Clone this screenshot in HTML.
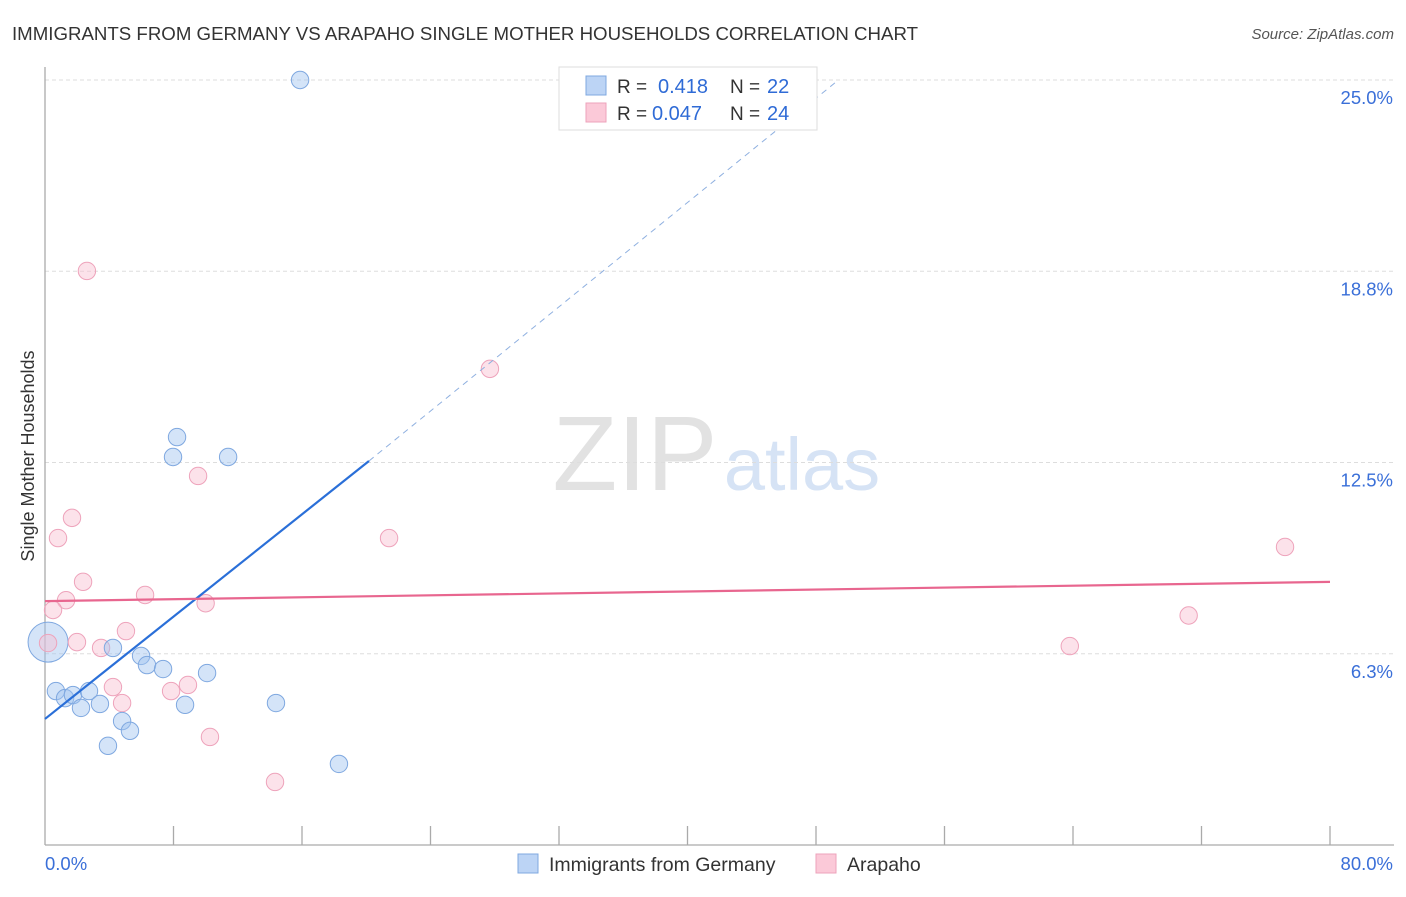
<!DOCTYPE html>
<html><head><meta charset="utf-8"><style>
body{margin:0;background:#fff;font-family:"Liberation Sans",sans-serif;}
svg text{font-family:"Liberation Sans",sans-serif;}
</style></head><body>
<svg id="chart" width="1406" height="892" viewBox="0 0 1406 892" xmlns="http://www.w3.org/2000/svg">
<text x="12" y="40" font-size="18.6" fill="#333" textLength="906" lengthAdjust="spacingAndGlyphs">IMMIGRANTS FROM GERMANY VS ARAPAHO SINGLE MOTHER HOUSEHOLDS CORRELATION CHART</text>
<text x="1394" y="39" font-size="15" fill="#555" text-anchor="end" font-style="italic">Source: ZipAtlas.com</text>
<g>
<text x="635" y="490" font-size="106" fill="#e2e2e2" text-anchor="middle" font-family="Liberation Serif, serif">ZIP</text>
<text x="802" y="490" font-size="74" fill="#d6e3f5" text-anchor="middle">atlas</text>
</g>
<g id="grid"></g>
<g id="axes"></g>
<g id="marks"></g>
<text transform="translate(34,456) rotate(-90)" font-size="18" fill="#333" text-anchor="middle">Single Mother Households</text>
<g>
<rect x="559" y="67" width="258" height="63" fill="#fff" stroke="#ddd"/>
<rect x="586" y="76" width="20" height="19" fill="#bcd4f5" stroke="#7fa8e0"/>
<rect x="586" y="103" width="20" height="19" fill="#fbc9d8" stroke="#eea3bb"/>
<text x="617" y="93" font-size="19" fill="#333">R =</text>
<text x="658" y="93" font-size="20" fill="#2f6bd6">0.418</text>
<text x="730" y="93" font-size="19" fill="#333">N =</text>
<text x="767" y="93" font-size="20" fill="#2f6bd6">22</text>
<text x="617" y="120" font-size="19" fill="#333">R =</text>
<text x="652" y="120" font-size="20" fill="#2f6bd6">0.047</text>
<text x="730" y="120" font-size="19" fill="#333">N =</text>
<text x="767" y="120" font-size="20" fill="#2f6bd6">24</text>
</g>
<g>
<rect x="518" y="854" width="20" height="19" fill="#bcd4f5" stroke="#7fa8e0"/>
<text x="549" y="871" font-size="19.5" fill="#333">Immigrants from Germany</text>
<rect x="816" y="854" width="20" height="19" fill="#fbc9d8" stroke="#eea3bb"/>
<text x="847" y="871" font-size="19.5" fill="#333">Arapaho</text>
</g>
</svg>
<script>
const yTicks=[25.0,18.8,12.5,6.3];
const yTickVals=[25,18.75,12.5,6.25];
const xTickLabels=["0.0%","80.0%"];
const blueX=[15.88,8.22,7.97,11.4,4.23,5.98,6.35,7.35,10.09,0.68,1.25,1.74,2.74,2.24,3.42,4.8,5.29,3.92,8.72,14.38,18.3];
const blueY=[25.0,13.33,12.68,12.68,6.44,6.18,5.88,5.75,5.62,5.03,4.8,4.9,5.03,4.48,4.61,4.05,3.73,3.24,4.58,4.64,2.65];
const blueBig=[0.19,6.63];
const pinkX=[2.61,27.7,9.53,1.68,0.81,21.42,77.2,2.37,6.23,1.31,0.5,10.0,71.2,5.04,1.99,3.49,0.19,63.8,4.23,8.9,7.85,4.8,10.27,14.32];
const pinkY=[18.76,15.56,12.06,10.69,10.03,10.03,9.74,8.6,8.17,8.0,7.68,7.9,7.5,6.99,6.63,6.44,6.6,6.5,5.16,5.23,5.03,4.64,3.53,2.06];
const blueTrend=[0,4.12,20.17,12.55,49.4,25.0];
const pinkTrend=[0,7.97,80,8.6];
const NS="http://www.w3.org/2000/svg";
const X=v=>45+v*(1285/80);
const Y=v=>80+(25-v)*(765/25);
function mk(t,a,p){const e=document.createElementNS(NS,t);for(const k in a)e.setAttribute(k,a[k]);p.appendChild(e);return e;}
const grid=document.getElementById('grid'),axes=document.getElementById('axes'),marks=document.getElementById('marks');
yTickVals.forEach((v,i)=>{
 const l=mk('line',{x1:45,x2:1394,y1:Y(v),y2:Y(v),stroke:'#ddd','stroke-dasharray':'4,3'},grid);
 
 
 const t=mk('text',{x:1393,y:Y(v)+24,'font-size':18.5,fill:'#3a6fd8','text-anchor':'end'},grid);
 t.textContent=yTicks[i].toFixed(1)+'%';
 
 
});
mk('line',{x1:45,x2:45,y1:67,y2:845,stroke:'#aaa','stroke-width':1.3},axes);
mk('line',{x1:45,x2:1394,y1:845,y2:845,stroke:'#aaa','stroke-width':1.3},axes);
for(let i=1;i<=10;i++){const l=mk('line',{x1:X(i*8),x2:X(i*8),y1:826,y2:845,stroke:'#aaa','stroke-width':1.3},axes);
 
 }
let t0=mk('text',{x:45,y:870,'font-size':18.5,fill:'#3a6fd8'},axes);t0.textContent=xTickLabels[0];


let t1=mk('text',{x:1393,y:870,'font-size':18.5,fill:'#3a6fd8','text-anchor':'end'},axes);t1.textContent=xTickLabels[1];


let bb=mk('circle',{cx:X(blueBig[0]),cy:Y(blueBig[1]),r:20,fill:'rgba(160,195,240,0.45)',stroke:'#7fa8e0','stroke-width':1},marks);


pinkX.forEach((x,i)=>{const c=mk('circle',{cx:X(x),cy:Y(pinkY[i]),r:8.7,fill:'rgba(249,190,208,0.45)',stroke:'#eea3bb','stroke-width':1},marks);
 
 });
blueX.forEach((x,i)=>{const c=mk('circle',{cx:X(x),cy:Y(blueY[i]),r:8.7,fill:'rgba(160,195,240,0.45)',stroke:'#7fa8e0','stroke-width':1},marks);
 
 });
let bt=mk('line',{x1:X(blueTrend[0]),y1:Y(blueTrend[1]),x2:X(blueTrend[2]),y2:Y(blueTrend[3]),stroke:'#2a6fd8','stroke-width':2.2},marks);


let bd=mk('line',{x1:X(blueTrend[2]),y1:Y(blueTrend[3]),x2:X(blueTrend[4]),y2:Y(blueTrend[5]),stroke:'#8fb0e0','stroke-width':1,'stroke-dasharray':'6,5'},marks);


let pt=mk('line',{x1:X(pinkTrend[0]),y1:Y(pinkTrend[1]),x2:X(pinkTrend[2]),y2:Y(pinkTrend[3]),stroke:'#e8668f','stroke-width':2.2},marks);


</script>
</body></html>
